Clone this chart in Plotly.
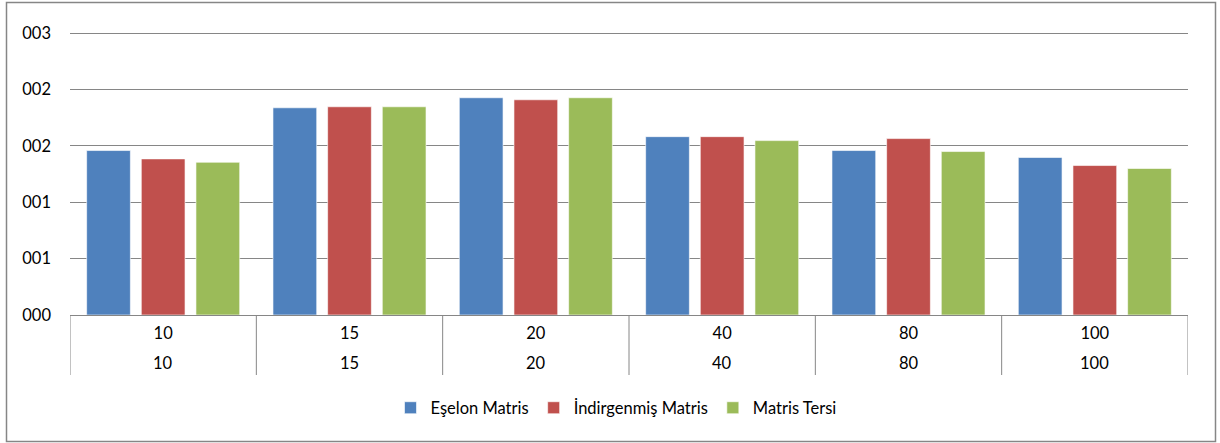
import plotly.graph_objects as go

# Matrix sizes (outer and inner category rows carry the same labels)
sizes = ["10", "15", "20", "40", "80", "100"]

# Run times per method
eselon = [1.458, 1.837, 1.926, 1.581, 1.458, 1.396]
indirgenmis = [1.384, 1.846, 1.908, 1.581, 1.564, 1.325]
tersi = [1.354, 1.846, 1.926, 1.546, 1.449, 1.299]

series_names = ["Eşelon Matris", "İndirgenmiş Matris", "Matris Tersi"]
series_colors = ["#4F81BD", "#C0504D", "#9BBB59"]

# Y-axis ticks and their labels
y_ticks = [0, 0.5, 1.0, 1.5, 2.0, 2.5]
y_tick_labels = ["000", "001", "001", "002", "002", "003"]

FONT = "Lato, Calibri, sans-serif"
FS = 16.5
GRID = "#868686"

W, H = 1220, 443
ML, MR, MT, MB = 70, 32, 30, 128
PLOT_H = H - MT - MB
PLOT_W = W - ML - MR
PX_PER_UNIT = 112.8  # vertical scale: 0.5 units per grid step
Y_TOP = PLOT_H / PX_PER_UNIT


def py(px_y):
    """Pixel row -> paper y."""
    return (H - MB - px_y) / PLOT_H


def px(px_x):
    """Pixel column -> paper x."""
    return (px_x - ML) / PLOT_W


fig = go.Figure()
for name, vals, col in zip(series_names, [eselon, indirgenmis, tersi], series_colors):
    fig.add_trace(go.Bar(
        x=sizes, y=vals, name=name,
        marker=dict(color=col, line=dict(color="rgba(255,255,255,0.6)", width=1)),
    ))

fig.update_layout(
    width=W, height=H,
    margin=dict(l=ML, r=MR, t=MT, b=MB),
    paper_bgcolor="white", plot_bgcolor="white",
    barmode="group", bargap=0.12, bargroupgap=0.2,
    font=dict(family=FONT, size=FS, color="#000000"),
    showlegend=True,
    legend=dict(
        orientation="h", x=px(616), xanchor="center", y=py(408), yanchor="middle",
        font=dict(family=FONT, size=FS), traceorder="normal",
        itemwidth=30,
    ),
    xaxis=dict(
        type="category", range=[-0.5, len(sizes) - 0.5],
        showline=True, linecolor=GRID, linewidth=1,
        showgrid=False, ticks="", ticklabelstandoff=3,
        tickfont=dict(family=FONT, size=FS),
    ),
    yaxis=dict(
        range=[0, Y_TOP], tickvals=y_ticks, ticktext=y_tick_labels,
        showgrid=True, gridcolor=GRID, gridwidth=1,
        showline=False, zeroline=False, ticks="",
        ticklabelstandoff=18,
        tickfont=dict(family=FONT, size=FS),
    ),
)

# Second (outer) row of category labels
for i, s in enumerate(sizes):
    fig.add_annotation(
        x=i, y=py(363), xref="x", yref="paper", text=s, showarrow=False,
        xanchor="center", yanchor="middle", font=dict(family=FONT, size=FS),
    )

# Category dividers below the axis
for i in range(len(sizes) + 1):
    fig.add_shape(
        type="line", xref="x", yref="paper",
        x0=i - 0.5, x1=i - 0.5, y0=py(315), y1=py(375),
        line=dict(color=GRID, width=1),
    )

# Outer chart frame
fig.add_shape(
    type="rect", xref="paper", yref="paper",
    x0=px(6.5), x1=px(1215.5), y0=py(441.5), y1=py(2.5),
    line=dict(color=GRID, width=1.5), fillcolor="rgba(0,0,0,0)", layer="below",
)

fig.write_html("out.html")
